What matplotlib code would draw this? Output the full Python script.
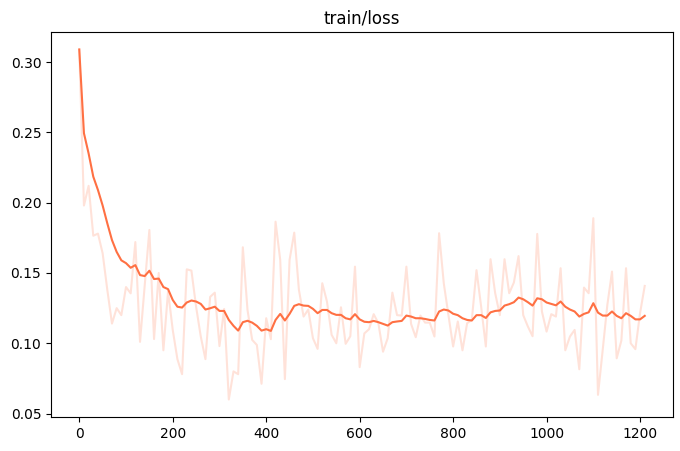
import numpy as np
import matplotlib
matplotlib.use("Agg")
import matplotlib.pyplot as plt

# steps logged every 10 iterations
steps = list(range(0, 1211, 10))

# raw loss values (light line)
loss_raw = [
    0.309, 0.198, 0.212, 0.1765, 0.178, 0.164, 0.138, 0.114, 0.125, 0.120,
    0.140, 0.1355, 0.172, 0.101, 0.141, 0.1806, 0.103, 0.150, 0.095, 0.137,
    0.1095, 0.0887, 0.078, 0.1526, 0.1517, 0.126, 0.1048, 0.0887, 0.133, 0.136,
    0.098, 0.1244, 0.060, 0.080, 0.078, 0.1683, 0.1237, 0.1024, 0.0988, 0.0712,
    0.1178, 0.1029, 0.1865, 0.1593, 0.0745, 0.1593, 0.1787, 0.138, 0.119, 0.124,
    0.1036, 0.096, 0.1427, 0.1297, 0.106, 0.100, 0.1256, 0.0996, 0.105, 0.1545,
    0.083, 0.107, 0.110, 0.1207, 0.1143, 0.094, 0.1036, 0.136, 0.120, 0.1197,
    0.1545, 0.1138, 0.1043, 0.1197, 0.1147, 0.1147, 0.1048, 0.1783, 0.1427, 0.120,
    0.0977, 0.1155, 0.095, 0.1143, 0.1166, 0.152, 0.126, 0.0977, 0.1598, 0.1356,
    0.120, 0.1598, 0.1356, 0.1432, 0.162, 0.120, 0.1119, 0.105, 0.1778, 0.1226,
    0.1083, 0.1207, 0.119, 0.1534, 0.095, 0.1048, 0.1095, 0.0815, 0.1396, 0.1356,
    0.189, 0.0633, 0.095, 0.1273, 0.151, 0.0893, 0.1019, 0.1534, 0.100, 0.0958,
    0.1214, 0.1408,
]

# smoothed loss values (dark line)
loss_smooth = [
    0.309, 0.2494, 0.235, 0.2185, 0.209, 0.198, 0.1853, 0.1734, 0.165, 0.159,
    0.157, 0.1537, 0.1556, 0.1485, 0.1478, 0.1516, 0.1457, 0.146, 0.140, 0.1385,
    0.1308, 0.126, 0.1254, 0.129, 0.1304, 0.1297, 0.128, 0.124, 0.1249, 0.126,
    0.123, 0.123, 0.1166, 0.1124, 0.109, 0.115, 0.116, 0.1147, 0.1124, 0.109,
    0.110, 0.1088, 0.1166, 0.1209, 0.1162, 0.1209, 0.1266, 0.1278, 0.1268, 0.1266,
    0.1245, 0.1214, 0.1237, 0.1237, 0.1214, 0.1202, 0.1202, 0.1178, 0.117, 0.1207,
    0.117, 0.1153, 0.115, 0.1159, 0.115, 0.1138, 0.1126, 0.115, 0.1155, 0.1159,
    0.1197, 0.119, 0.1178, 0.1178, 0.1173, 0.1166, 0.1162, 0.1226, 0.124, 0.1233,
    0.121, 0.120, 0.1178, 0.1166, 0.1162, 0.120, 0.120, 0.118, 0.122, 0.123,
    0.1233, 0.1268, 0.1278, 0.1292, 0.1325, 0.1313, 0.1292, 0.1268, 0.132, 0.1313,
    0.129, 0.128, 0.127, 0.1297, 0.126, 0.124, 0.1226, 0.119, 0.1209, 0.122,
    0.1285, 0.1218, 0.1197, 0.1197, 0.1226, 0.1195, 0.1178, 0.1214, 0.1195, 0.117,
    0.117, 0.1195,
]

line_color = "#ff7043"

fig = plt.figure(figsize=(6.8, 4.51), dpi=100)
ax = fig.add_axes([0.075, 0.0754, 0.9147, 0.8537])

ax.plot(steps, loss_raw, color=line_color, alpha=0.2, linewidth=1.5)
ax.plot(steps, loss_smooth, color=line_color, linewidth=1.5)

ax.set_title("train/loss")

fig.savefig("out.png", dpi=100)
